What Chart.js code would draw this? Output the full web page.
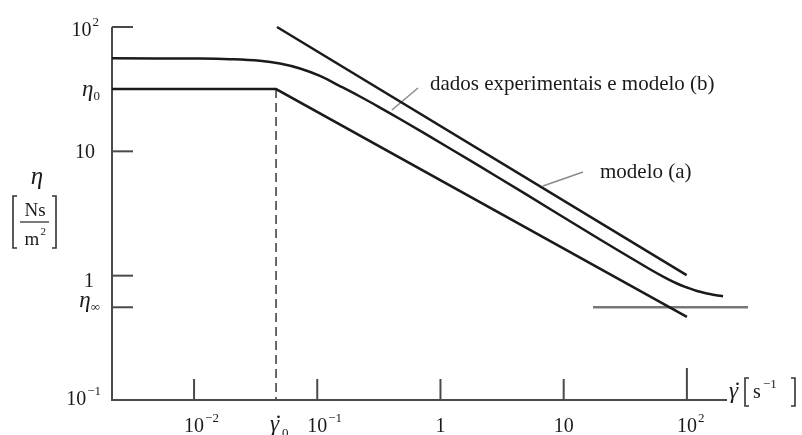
<!DOCTYPE html>
<html>
<head>
<meta charset="utf-8">
<script src="https://cdn.jsdelivr.net/npm/chart.js@4/dist/chart.umd.min.js"></script>
<style>
  html, body { margin: 0; padding: 0; background: #fff; }
  #wrap { width: 802px; height: 435px; }
</style>
</head>
<body>
<div id="wrap"><canvas id="c" width="802" height="435"></canvas></div>
<script>
// Characteristic viscosities and shear rate (log-log viscosity curve)
const eta0 = 31.7;      // zero-shear viscosity
const etaInf = 0.557;   // infinite-shear viscosity
const gamma0 = 0.0463;  // critical shear rate

// Axis ranges
const gammaMin = 0.002158, gammaMax = 211.6;
const etaMin = 0.1, etaMax = 100;

// Power-law model with Newtonian plateau (lower curve)
const gammaPL = [gammaMin, gamma0, 100];
const etaPL = [eta0, eta0, 0.466];

// Model (a): pure power law (upper straight line)
const gammaA = [0.0471, 99.5];
const etaA = [100, 1.01];

// Experimental data and model (b) (middle smooth curve)
const gammaB = [0.00216, 0.01117, 0.01955, 0.03425, 0.04977, 0.07244, 0.1052, 0.1528, 0.2221,
                0.3228, 0.4691, 1.194, 3.040, 7.742, 19.72, 50.14, 66.4, 83.1, 100.2, 120.8,
                145.6, 169.1, 196.4];
const etaB = [56.0, 55.7, 55.1, 53.5, 50.9, 46.4, 40.4, 33.5, 27.6,
              22.5, 18.2, 10.54, 6.05, 3.44, 1.954, 1.127, 0.966, 0.865, 0.803, 0.753,
              0.719, 0.699, 0.682];

// eta-infinity reference line and annotation leader lines
const gammaInfLine = [17.3, 313.6];
const leaderB = { gamma: [0.4036, 0.657], eta: [21.5, 32.3] };
const leaderA = { gamma: [6.79, 14.35], eta: [5.26, 6.82] };

// Tick positions and labels: [base, exponent]
const xTicks = [0.01, 0.1, 1, 10, 100];
const xTickLabels = [['10', '\u22122'], ['10', '\u22121'], ['1', ''], ['10', ''], ['10', '2']];
const yTicks = [100, 10, 1, etaInf];

// Annotation texts and their anchor points (data coordinates)
const labelB = { text: 'dados experimentais e modelo (b)', gamma: 0.822, eta: 34.2 };
const labelA = { text: 'modelo (a)', gamma: 19.71, eta: 6.82 };

const SERIF = '"Liberation Serif", "Times New Roman", serif';
const INK = '#1a1a1a';
const AXIS = '#4a4a4a';

function pts(xs, ys) { return xs.map((x, i) => ({ x: x, y: ys[i] })); }

function setFont(ctx, size, italic) {
  ctx.font = (italic ? 'italic ' : '') + size + 'px ' + SERIF;
}

// Number with optional superscript, base centred on cx
function powCentered(ctx, base, sup, cx, baseline) {
  setFont(ctx, 20);
  const wb = ctx.measureText(base).width;
  ctx.textAlign = 'left';
  ctx.fillText(base, cx - wb / 2, baseline);
  if (sup) {
    setFont(ctx, 13);
    ctx.fillText(sup, cx + wb / 2 + 1, baseline - 10);
  }
}

// Number with optional superscript, right edge at rx
function powRight(ctx, base, sup, rx, baseline) {
  setFont(ctx, 13);
  const ws = sup ? ctx.measureText(sup).width + 1 : 0;
  setFont(ctx, 20);
  const wb = ctx.measureText(base).width;
  ctx.textAlign = 'left';
  ctx.fillText(base, rx - ws - wb, baseline);
  if (sup) {
    setFont(ctx, 13);
    ctx.fillText(sup, rx - ws + 1, baseline - 10);
  }
}

// Symbol with subscript, right edge at rx
function subRight(ctx, sym, sub, rx, baseline, subBaseline) {
  setFont(ctx, 13);
  const ws = ctx.measureText(sub).width;
  setFont(ctx, 23, true);
  const wm = ctx.measureText(sym).width;
  ctx.textAlign = 'left';
  ctx.fillText(sym, rx - ws - wm, baseline);
  setFont(ctx, 13);
  ctx.fillText(sub, rx - ws, subBaseline);
}

// Italic gamma with an overdot (raised full stop), left edge at x
function gammaDot(ctx, x, baseline) {
  setFont(ctx, 23, true);
  ctx.textAlign = 'left';
  ctx.fillText('\u03B3', x, baseline);
  setFont(ctx, 22);
  ctx.textAlign = 'center';
  ctx.fillText('.', x + 8.5, baseline - 13);
  ctx.textAlign = 'left';
}

function bracket(ctx, x, y0, y1, dir) {
  ctx.beginPath();
  ctx.moveTo(x + dir * 4, y0);
  ctx.lineTo(x, y0);
  ctx.lineTo(x, y1);
  ctx.lineTo(x + dir * 4, y1);
  ctx.stroke();
}

const decor = {
  id: 'decor',
  beforeDatasetsDraw(chart) {
    const ctx = chart.ctx;
    const xs = chart.scales.x, ys = chart.scales.y;
    const a = chart.chartArea;
    ctx.save();
    ctx.strokeStyle = AXIS;
    ctx.lineWidth = 2;
    // axes
    ctx.beginPath();
    ctx.moveTo(a.left, a.top);
    ctx.lineTo(a.left, a.bottom);
    ctx.lineTo(a.right, a.bottom);
    ctx.stroke();
    // inward tick marks on the shear-rate axis
    xTicks.forEach(v => {
      const px = xs.getPixelForValue(v);
      const len = v === 100 ? 32 : 21;
      ctx.beginPath();
      ctx.moveTo(px, a.bottom);
      ctx.lineTo(px, a.bottom - len);
      ctx.stroke();
    });
    // inward tick marks on the viscosity axis
    yTicks.forEach(v => {
      const py = ys.getPixelForValue(v);
      ctx.beginPath();
      ctx.moveTo(a.left, py);
      ctx.lineTo(a.left + 21, py);
      ctx.stroke();
    });
    ctx.restore();
  },
  afterDatasetsDraw(chart) {
    const ctx = chart.ctx;
    const xs = chart.scales.x, ys = chart.scales.y;
    ctx.save();
    ctx.fillStyle = INK;
    ctx.strokeStyle = '#333';

    // shear-rate tick labels
    xTicks.forEach((v, i) => {
      powCentered(ctx, xTickLabels[i][0], xTickLabels[i][1], xs.getPixelForValue(v), 432);
    });
    // critical shear rate label
    const g0 = xs.getPixelForValue(gamma0);
    gammaDot(ctx, g0 - 6, 431);
    setFont(ctx, 13);
    ctx.fillText('0', g0 + 6, 437);

    // viscosity tick labels
    powRight(ctx, '10', '2', 99, ys.getPixelForValue(100) + 9);
    powRight(ctx, '10', '', 95, ys.getPixelForValue(10) + 7);
    powRight(ctx, '1', '', 94, ys.getPixelForValue(1) + 11);
    powRight(ctx, '10', '\u22121', 101, ys.getPixelForValue(etaMin) + 5);
    subRight(ctx, '\u03B7', '0', 100, ys.getPixelForValue(eta0) + 7, ys.getPixelForValue(eta0) + 11);
    subRight(ctx, '\u03B7', '\u221E', 100, ys.getPixelForValue(etaInf) + 0, ys.getPixelForValue(etaInf) + 4);

    // viscosity axis title: eta [Ns/m^2]
    setFont(ctx, 25, true);
    ctx.textAlign = 'center';
    ctx.fillText('\u03B7', 37, 184);
    setFont(ctx, 19);
    ctx.fillText('Ns', 35, 216);
    const wm = ctx.measureText('m').width;
    ctx.textAlign = 'left';
    ctx.fillText('m', 32 - wm / 2, 245);
    setFont(ctx, 11);
    ctx.fillText('2', 32 + wm / 2 + 1, 235);
    ctx.lineWidth = 1.3;
    ctx.beginPath();
    ctx.moveTo(20, 222);
    ctx.lineTo(49, 222);
    ctx.stroke();
    ctx.lineWidth = 1.6;
    bracket(ctx, 13, 196, 248, 1);
    bracket(ctx, 56, 196, 248, -1);

    // shear-rate axis title: gamma-dot [s^-1]
    gammaDot(ctx, 729, 398);
    setFont(ctx, 20);
    ctx.fillText('s', 753, 398);
    setFont(ctx, 13);
    ctx.fillText('\u22121', 763, 388);
    bracket(ctx, 745, 378, 406, 1);
    bracket(ctx, 795, 378, 406, -1);

    // annotations
    setFont(ctx, 21);
    ctx.textAlign = 'left';
    ctx.textBaseline = 'middle';
    ctx.fillText(labelB.text, xs.getPixelForValue(labelB.gamma), ys.getPixelForValue(labelB.eta));
    ctx.fillText(labelA.text, xs.getPixelForValue(labelA.gamma), ys.getPixelForValue(labelA.eta));
    ctx.restore();
  }
};

const curve = { borderColor: INK, borderWidth: 2.5, pointRadius: 0, fill: false, clip: false };
const thin = { borderColor: '#8a8a8a', borderWidth: 1.5, pointRadius: 0, fill: false, clip: false, tension: 0 };

new Chart(document.getElementById('c'), {
  type: 'line',
  data: {
    datasets: [
      Object.assign({ label: 'lei de potência', data: pts(gammaPL, etaPL), tension: 0 }, curve),
      Object.assign({ label: 'modelo (a)', data: pts(gammaA, etaA), tension: 0 }, curve),
      Object.assign({ label: 'dados experimentais e modelo (b)', data: pts(gammaB, etaB),
                      tension: 0.4 }, curve),
      Object.assign({ label: 'taxa crítica', data: pts([gamma0, gamma0], [eta0, etaMin]),
                      borderColor: '#444', borderWidth: 1.6, borderDash: [9, 5], pointRadius: 0,
                      clip: false, tension: 0 }),
      Object.assign({ label: 'eta infinito', data: pts(gammaInfLine, [etaInf, etaInf]) }, thin,
                    { borderColor: '#777', borderWidth: 2.5 }),
      Object.assign({ label: 'guia b', data: pts(leaderB.gamma, leaderB.eta) }, thin),
      Object.assign({ label: 'guia a', data: pts(leaderA.gamma, leaderA.eta) }, thin)
    ]
  },
  options: {
    responsive: false,
    devicePixelRatio: 1,
    animation: false,
    events: [],
    layout: { padding: { left: 112, right: 75, top: 27, bottom: 35 } },
    plugins: { legend: { display: false }, tooltip: { enabled: false } },
    scales: {
      x: { type: 'logarithmic', min: gammaMin, max: gammaMax, display: false },
      y: { type: 'logarithmic', min: etaMin, max: etaMax, display: false }
    }
  },
  plugins: [decor]
});
</script>
</body>
</html>
